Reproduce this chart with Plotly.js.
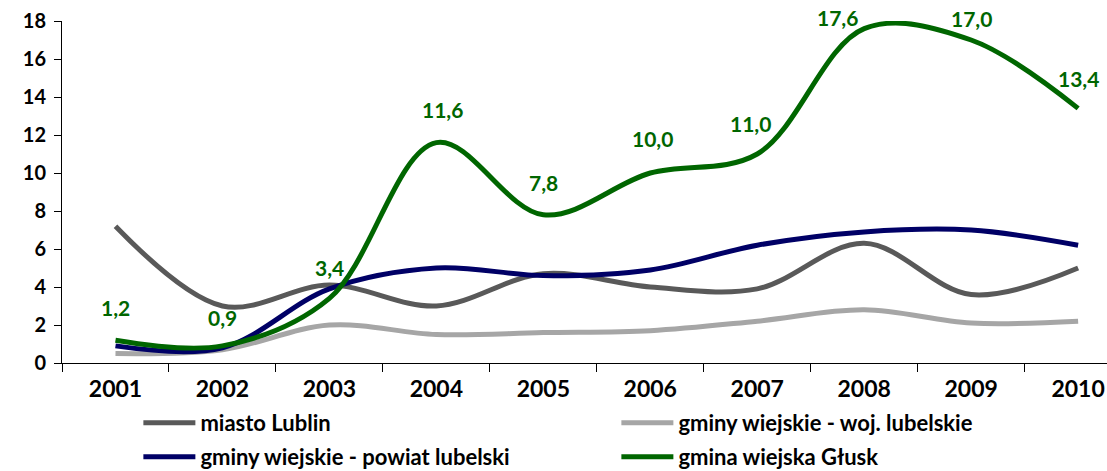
<!DOCTYPE html>
<html>
<head>
<meta charset="utf-8">
<script src="https://cdn.plot.ly/plotly-3.0.1.min.js"></script>
<style>html,body{margin:0;padding:0;background:#fff;}#chart{width:1107px;height:471px;}</style>
</head>
<body>
<div id="chart"></div>
<script>
const years = ["2001","2002","2003","2004","2005","2006","2007","2008","2009","2010"];
const miastoLublin = [7.2, 3.0, 4.1, 3.0, 4.7, 4.0, 3.9, 6.3, 3.6, 5.0];
const gminyWoj = [0.5, 0.7, 2.0, 1.5, 1.6, 1.7, 2.2, 2.8, 2.1, 2.2];
const gminyPowiat = [0.9, 0.8, 3.9, 5.0, 4.6, 4.9, 6.2, 6.9, 7.0, 6.2];
const glusk = [1.2, 0.9, 3.4, 11.6, 7.8, 10.0, 11.0, 17.6, 17.0, 13.4];
const seriesNames = ["miasto Lublin", "gminy wiejskie - woj. lubelskie", "gminy wiejskie - powiat lubelski", "gmina wiejska Głusk"];

const FONT = "Lato, 'Open Sans', sans-serif";
const fmt = v => v.toFixed(1).replace('.', ',');

function tr(y, name, color, legend) {
  return {
    x: years, y: y, name: name, type: 'scatter', mode: 'lines',
    line: {color: color, width: 5, shape: 'spline', smoothing: 1},
    legend: legend, hoverinfo: 'skip'
  };
}

const traces = [
  tr(miastoLublin, seriesNames[0], '#595959', 'legend'),
  tr(gminyWoj, seriesNames[1], '#a6a6a6', 'legend'),
  tr(gminyPowiat, seriesNames[2], '#000066', 'legend2'),
  tr(glusk, seriesNames[3], '#006600', 'legend2')
];

// label offsets (pixels) for the Głusk data labels
const labelDx = [0, 0, 0, 6, 0, 2, -7, -27, 0, 0];
const labelDy = [33, 28, 31, 33, 32, 35, 31, 11, 22, 30];
const annotations = years.map((yr, i) => ({
  x: i, y: glusk[i], xref: 'x', yref: 'y', text: fmt(glusk[i]),
  showarrow: true, arrowcolor: 'rgba(0,0,0,0)', arrowwidth: 0.1, arrowhead: 0,
  ax: labelDx[i], ay: -labelDy[i], standoff: 0, startstandoff: 0,
  font: {family: FONT, size: 21, color: '#006600', weight: 'bold'}
}));

const legendCommon = {
  orientation: 'h', xref: 'container', yref: 'container', xanchor: 'left', yanchor: 'middle',
  x: 0.125, entrywidth: 411, entrywidthmode: 'pixels', itemwidth: 52,
  font: {family: FONT, size: 22, color: '#000', weight: 'bold'},
  bgcolor: 'rgba(0,0,0,0)', tracegroupgap: 0, itemclick: false
};

const layout = {
  width: 1107, height: 471,
  margin: {l: 62, r: 0, t: 21, b: 108},
  paper_bgcolor: '#fff', plot_bgcolor: '#fff',
  showlegend: true,
  font: {family: FONT, color: '#000'},
  xaxis: {
    type: 'category', range: [-0.5, 9.27], tickson: 'boundaries',
    ticks: 'outside', ticklen: 8, tickcolor: '#000', tickwidth: 1,
    showline: true, linecolor: '#000', linewidth: 1, showgrid: false, zeroline: false,
    tickfont: {family: FONT, size: 23, color: '#000', weight: 'bold'},
    ticklabelstandoff: 5
  },
  yaxis: {
    range: [0, 18], dtick: 2, ticks: 'outside', ticklen: 7, tickcolor: '#000',
    showline: true, linecolor: '#000', linewidth: 1, showgrid: false, zeroline: false,
    tickfont: {family: FONT, size: 20, color: '#000', weight: 'bold'},
    ticklabelstandoff: 4
  },
  legend: Object.assign({}, legendCommon, {y: 1 - 423/471}),
  legend2: Object.assign({}, legendCommon, {y: 1 - 457/471}),
  annotations: annotations
};

Plotly.newPlot('chart', traces, layout, {displayModeBar: false, staticPlot: true});
</script>
</body>
</html>
